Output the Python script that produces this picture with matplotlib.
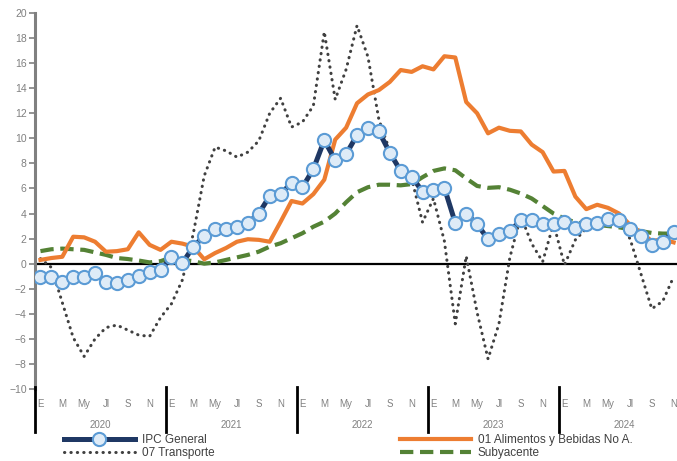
import numpy as np
import matplotlib
matplotlib.use("Agg")
from matplotlib import pyplot as plt
from matplotlib import transforms

plt.rcParams['font.family'] = ['Liberation Sans', 'DejaVu Sans']

# monthly series, Jan 2020 .. Nov 2024
ipc_general = [-1.05, -1.1, -1.45, -1.1, -1.1, -0.75, -1.5, -1.55, -1.3, -0.95, -0.7, -0.5,
               0.5, 0.05, 1.35, 2.2, 2.75, 2.75, 2.9, 3.25, 4.0, 5.4, 5.55, 6.45,
               6.1, 7.55, 9.85, 8.25, 8.75, 10.25, 10.85, 10.55, 8.85, 7.4, 6.95, 5.75,
               5.9, 6.05, 3.25, 4.0, 3.15, 1.95, 2.35, 2.6, 3.45, 3.45, 3.15, 3.15,
               3.35, 2.85, 3.15, 3.25, 3.6, 3.45, 2.8, 2.2, 1.5, 1.75, 2.55]
alimentos = [0.3, 0.45, 0.55, 2.15, 2.1, 1.75, 0.95, 1.0, 1.15, 2.5, 1.5, 1.1,
             1.75, 1.6, 1.35, 0.35, 0.85, 1.25, 1.75, 1.95, 1.9, 1.75, 3.35, 5.0,
             4.8, 5.55, 6.7, 9.9, 10.85, 12.8, 13.5, 13.85, 14.5, 15.45, 15.3, 15.75,
             15.5, 16.55, 16.45, 12.9, 12.0, 10.4, 10.85, 10.6, 10.55, 9.5, 8.9, 7.35,
             7.4, 5.35, 4.35, 4.7, 4.45, 4.0, 3.1, 2.5, 1.8, 1.95, 1.7]
transporte = [0.4, -0.3, -3.1, -5.9, -7.4, -6.0, -5.1, -4.9, -5.3, -5.7, -5.8, -4.3,
              -3.2, -1.3, 2.4, 7.0, 9.3, 9.0, 8.5, 8.9, 9.8, 12.0, 13.2, 10.9,
              11.3, 12.6, 18.5, 13.1, 15.5, 19.0, 16.5, 11.5, 9.0, 7.4, 6.8, 3.3,
              5.2, 1.8, -4.8, 0.6, -3.9, -7.6, -4.8, 0.5, 3.8, 1.6, 0.15, 3.2,
              -0.1, 1.9, 2.8, 2.9, 3.6, 3.2, 2.0, -0.8, -3.6, -3.0, -1.05]
subyacente = [1.0, 1.15, 1.2, 1.15, 1.1, 0.9, 0.7, 0.45, 0.37, 0.25, 0.1, 0.2,
              0.5, 0.3, 0.2, 0.0, 0.1, 0.3, 0.5, 0.7, 0.96, 1.36, 1.63, 2.03,
              2.43, 2.95, 3.35, 4.0, 4.9, 5.7, 6.1, 6.3, 6.3, 6.25, 6.35, 6.9,
              7.4, 7.6, 7.45, 6.8, 6.2, 6.05, 6.1, 5.9, 5.6, 5.2, 4.6, 4.0,
              3.6, 3.3, 3.15, 3.1, 3.0, 2.9, 2.75, 2.6, 2.45, 2.4, 2.4]

years = ['2020', '2021', '2022', '2023', '2024']
month_labels = ['E', 'M', 'My', 'Jl', 'S', 'N']

x = np.arange(len(ipc_general))

fig = plt.figure(figsize=(6.77, 4.61), dpi=100)
ax = fig.add_axes([35 / 677, 72 / 461, 655 / 677, 376 / 461])

ax.plot(x, transporte, color='#404040', lw=2.2, ls=(0, (0.1, 2.0)),
        dash_capstyle='round', label='07 Transporte', zorder=2)
ax.plot(x, subyacente, color='#548235', lw=3.0, ls=(0, (3.2, 1.6)),
        label='Subyacente', zorder=3)
ax.plot(x, alimentos, color='#ED7D31', lw=3.0, label='01 Alimentos y Bebidas No A.',
        zorder=4)
ax.plot(x, ipc_general, color='#1F3864', lw=3.6, marker='o', ms=9.5,
        mfc='#DEEBF7', mec='#5B9BD5', mew=1.5, label='IPC General', zorder=5)

ax.axhline(0, color='black', lw=1.6, zorder=1)

ax.set_xlim(-0.5, 59.5)
ax.set_ylim(-10, 20)
ax.set_yticks(range(-10, 21, 2))
ax.tick_params(axis='y', colors='#808080', labelsize=7.5, length=4, width=1.2, pad=2)

for s in ['top', 'right', 'bottom']:
    ax.spines[s].set_visible(False)
ax.spines['left'].set_color('#808080')
ax.spines['left'].set_linewidth(2.2)

# month ticks
mt = [y * 12 + m for y in range(5) for m in range(0, 12, 2)]
ax.set_xticks(mt)
ax.set_xticklabels(month_labels * 5)
ax.tick_params(axis='x', length=0, labelsize=7, labelcolor='#808080', pad=7)

trans = transforms.blended_transform_factory(ax.transData, ax.transAxes)
for k, yr in enumerate(years):
    ax.text(k * 12 + 5.5, -0.095, yr, transform=trans, ha='center', va='center',
            fontsize=7, color='#808080')
    ax.plot([k * 12 - 0.5, k * 12 - 0.5], [0.005, -0.115], transform=trans,
            color='black', lw=2.0, clip_on=False, zorder=6)

h, l = ax.get_legend_handles_labels()
order = [3, 0, 2, 1]
fig.legend([h[i] for i in order], [l[i] for i in order], ncol=2, frameon=False,
           loc='upper left', bbox_to_anchor=(58 / 677, 33 / 461), borderpad=0,
           handlelength=6.0, handletextpad=0.6, columnspacing=15.7,
           labelspacing=0.1, fontsize=8.5, labelcolor='#404040')

fig.savefig('out.png', dpi=100)
